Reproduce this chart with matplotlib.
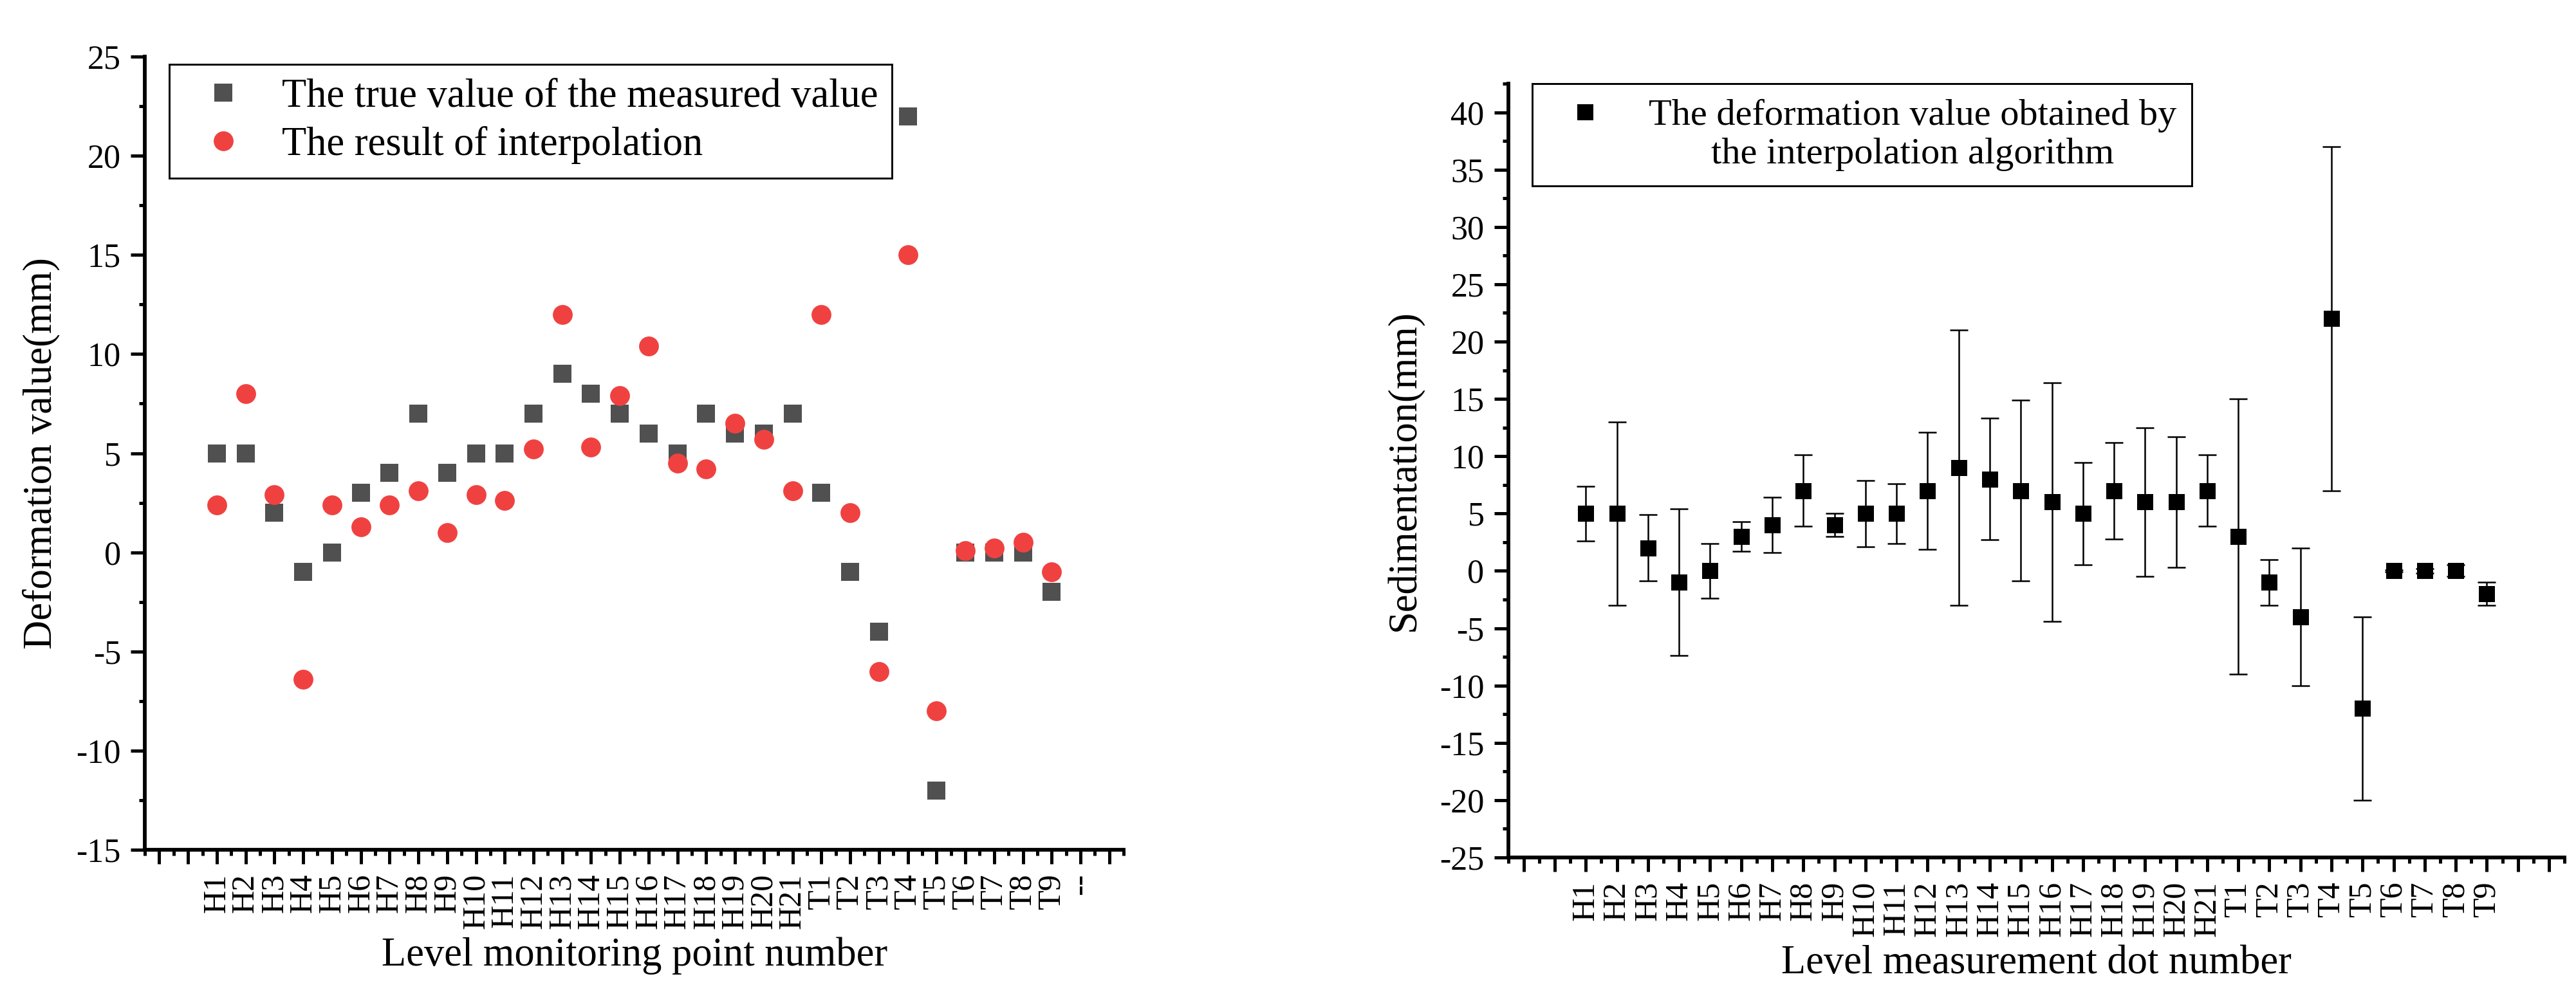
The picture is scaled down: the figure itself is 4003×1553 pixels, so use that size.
import numpy as np
import matplotlib.pyplot as plt
from matplotlib.ticker import MultipleLocator, FixedLocator
from matplotlib.legend_handler import HandlerLine2D

plt.rcParams['font.family'] = ['Liberation Serif', 'DejaVu Serif']
plt.rcParams['axes.unicode_minus'] = False

# point names (H1..H21, T1..T9)
points = ['H%d' % i for i in range(1, 22)] + ['T%d' % i for i in range(1, 10)]

# measured (true) deformation values, mm
measured = [5, 5, 2, -1, 0, 3, 4, 7, 4, 5, 5, 7, 9, 8, 7, 6, 5, 7, 6, 6, 7,
            3, -1, -4, 22, -12, 0, 0, 0, -2]

# interpolation result, mm
interp = [2.4, 8.0, 2.9, -6.4, 2.4, 1.3, 2.4, 3.1, 1.0, 2.9, 2.6, 5.2, 12.0,
          5.3, 7.9, 10.4, 4.5, 4.2, 6.5, 5.7, 3.1, 12.0, 2.0, -6.0, 15.0,
          -8.0, 0.1, 0.2, 0.5, -1.0]

# error bar half-length on the right chart, mm
errbar = [2.4, 8.0, 2.9, 6.4, 2.4, 1.3, 2.4, 3.1, 1.0, 2.9, 2.6, 5.1, 12.0,
          5.3, 7.9, 10.4, 4.45, 4.2, 6.5, 5.7, 3.1, 12.0, 2.0, 6.0, 15.0,
          8.0, 0.1, 0.2, 0.5, 1.0]

left_ticklabels = ['', ''] + points + ['--', '']
right_ticklabels = ['', ''] + points + ['', '']

x = np.arange(2, 2 + len(points))

SERIF = 'Liberation Serif'


class TopLineHandler(HandlerLine2D):
    # puts the marker next to the first line of a two-line label
    def __init__(self, shift, **kw):
        super().__init__(**kw)
        self.shift = shift

    def create_artists(self, legend, orig_handle, xdescent, ydescent,
                       width, height, fontsize, trans):
        arts = super().create_artists(legend, orig_handle, xdescent, ydescent,
                                      width, height, fontsize, trans)
        for a in arts:
            a.set_ydata(np.asarray(a.get_ydata()) + self.shift)
        return arts


fig = plt.figure(figsize=(4004 / 300, 1553 / 300), dpi=300)
ax1 = fig.add_axes([0.0562, 0.1494, 0.3799, 0.7939])
ax2 = fig.add_axes([0.5853, 0.1417, 0.4100, 0.7746])


def style_axis(ax, labels):
    for s in ['top', 'right']:
        ax.spines[s].set_visible(False)
    for s in ['left', 'bottom']:
        ax.spines[s].set_linewidth(1.4)
    ax.set_xlim(-0.5, 33.5)
    ax.xaxis.set_major_locator(FixedLocator(np.arange(len(labels))))
    ax.xaxis.set_minor_locator(MultipleLocator(1, offset=0.5))
    ax.set_xticklabels(labels, rotation=90, fontsize=12, family=SERIF)
    ax.yaxis.set_major_locator(MultipleLocator(5))
    ax.yaxis.set_minor_locator(MultipleLocator(2.5))
    ax.tick_params(which='major', direction='out', length=5.3, width=1.2,
                   labelsize=12.5, pad=3.6, labelfontfamily=SERIF)
    ax.tick_params(which='minor', direction='out', length=2.2, width=1.2)
    ax.tick_params(axis='x', labelsize=12)


# left chart
ax1.plot(x, measured, 's', color='#505050', ms=6.5, mec='none',
         label='The true value of the measured value', clip_on=False)
ax1.plot(x, interp, 'o', color='#F04141', ms=7.4, mec='none',
         label='The result of interpolation', clip_on=False)
style_axis(ax1, left_ticklabels)
ax1.set_ylim(-15, 25)
ax1.set_xlabel('Level monitoring point number', fontsize=15, labelpad=3)
ax1.set_ylabel('Deformation value(mm)', fontsize=15, labelpad=6)
leg1 = ax1.legend(loc='upper left', bbox_to_anchor=(0.025, 0.99),
                  borderaxespad=0, fontsize=15, fancybox=False,
                  edgecolor='black', framealpha=1, handlelength=2.0,
                  handletextpad=0.45, borderpad=0.35, labelspacing=0.25,
                  numpoints=1)
leg1.get_frame().set_linewidth(0.7)

# right chart
ax2.errorbar(x, measured, yerr=errbar, fmt='s', color='black', ms=6,
             mec='none', ecolor='black', elinewidth=0.6, capsize=3.4,
             capthick=0.6,
             label='The deformation value obtained by\nthe interpolation algorithm')
style_axis(ax2, right_ticklabels)
ax2.set_ylim(-25, 42.5)
ax2.set_xlabel('Level measurement dot number', fontsize=15, labelpad=3)
ax2.set_ylabel('Sedimentation(mm)', fontsize=15, labelpad=6)
h, l = ax2.get_legend_handles_labels()
leg2 = ax2.legend([h[0][0]], l, loc='upper left', bbox_to_anchor=(0.023, 1.0),
                  borderaxespad=0, fontsize=14, fancybox=False,
                  edgecolor='black', framealpha=1, handlelength=2.0,
                  handletextpad=0.7, borderpad=0.4, labelspacing=0.25,
                  numpoints=1,
                  handler_map={h[0][0]: TopLineHandler(shift=8.5)})
leg2.get_frame().set_linewidth(0.7)
for t in leg2.get_texts():
    t.set_multialignment('center')

fig.savefig('out.png', dpi=300)
